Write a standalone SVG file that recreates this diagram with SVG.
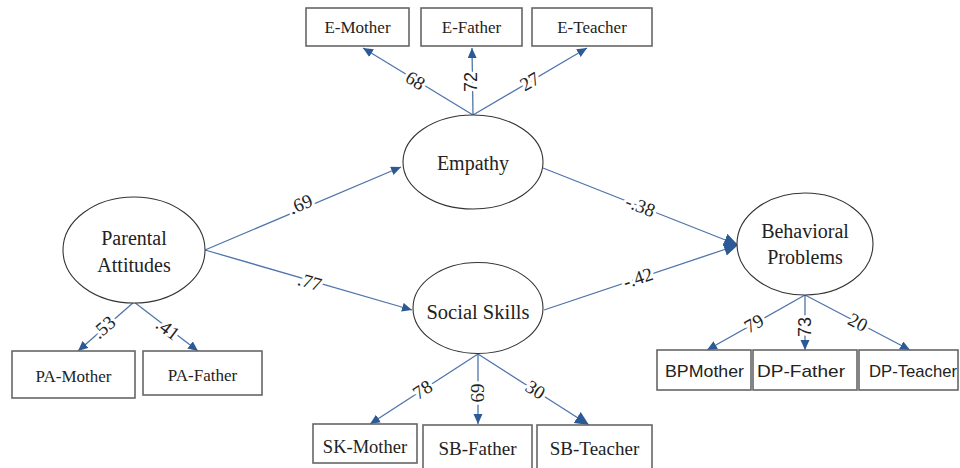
<svg xmlns="http://www.w3.org/2000/svg" width="960" height="468" viewBox="0 0 960 468">
<defs>
<marker id="ah" markerUnits="userSpaceOnUse" markerWidth="11" markerHeight="10" refX="10" refY="4.5" orient="auto">
<path d="M0,0 L10,4.5 L0,9 z" fill="#2c5a96"/>
</marker>
<marker id="ahL" markerUnits="userSpaceOnUse" markerWidth="15" markerHeight="14" refX="14" refY="6.5" orient="auto">
<path d="M0,0 L14,6.5 L0,13 z" fill="#2c5a96"/>
</marker>
<style>
.box{fill:#fff;stroke:#666;stroke-width:1.6}
.ell{fill:#fff;stroke:#333;stroke-width:1.1}
.t{font-family:"Liberation Serif","Times New Roman",serif;fill:#222;text-anchor:middle}
.s{font-family:"Liberation Sans",Arial,sans-serif;fill:#222;text-anchor:middle}
.conn line{stroke:#4f74aa;stroke-width:1.3;marker-end:url(#ah)}
.conn line.big{marker-end:url(#ahL)}
.lab{font-family:"Liberation Serif","Times New Roman",serif;font-size:19px;fill:#222;text-anchor:middle;stroke:#fff;stroke-width:6;paint-order:stroke;stroke-linejoin:round}
.labs{font-family:"Liberation Sans",Arial,sans-serif;font-size:18px;fill:#222;text-anchor:middle;stroke:#fff;stroke-width:6;paint-order:stroke;stroke-linejoin:round}
</style>
</defs>
<rect width="960" height="468" fill="#fff"/>

<g id="connectors" class="conn">
<line x1="205" y1="250" x2="401" y2="167"/>
<line x1="205" y1="250" x2="412" y2="310"/>
<line x1="543" y1="168" x2="738" y2="245" class="big"/>
<line x1="544" y1="310" x2="738" y2="245" class="big"/>
<line x1="473" y1="115" x2="363" y2="48"/>
<line x1="473" y1="115" x2="472" y2="48"/>
<line x1="473" y1="115" x2="587" y2="48"/>
<line x1="134" y1="302" x2="78" y2="351"/>
<line x1="134" y1="302" x2="198" y2="351"/>
<line x1="478" y1="354" x2="370" y2="424"/>
<line x1="478" y1="354" x2="478" y2="424"/>
<line x1="478" y1="354" x2="589" y2="425" class="big"/>
<line x1="805" y1="295" x2="707" y2="350"/>
<line x1="805" y1="295" x2="805" y2="350"/>
<line x1="805" y1="295" x2="910" y2="350"/>
</g>

<g id="labels">
<text class="lab" transform="translate(303,210) rotate(-23)">.69</text>
<text class="lab" transform="translate(308,288) rotate(16)">.77</text>
<text class="lab" transform="translate(638,212) rotate(21.6)">-.38</text>
<text class="lab" transform="translate(640,284) rotate(-18.6)">-.42</text>
<text class="lab" transform="translate(412,86) rotate(31.3)">68</text>
<text class="labs" transform="translate(477,82) rotate(-90)">72</text>
<text class="lab" transform="translate(533,87) rotate(-30.4)">27</text>
<text class="lab" transform="translate(108,332) rotate(-41)">.53</text>
<text class="lab" transform="translate(164,334) rotate(37.4)">.41</text>
<text class="lab" transform="translate(426,395) rotate(-33)">78</text>
<text class="lab" transform="translate(484,393) rotate(-90)">69</text>
<text class="lab" transform="translate(532,395) rotate(32.5)">30</text>
<text class="lab" transform="translate(757,329) rotate(-29.3)">79</text>
<text class="labs" transform="translate(811,327) rotate(-90)">73</text>
<text class="lab" transform="translate(855,328) rotate(27.6)">20</text>
</g>

<g id="parental-attitudes">
<ellipse class="ell" cx="134" cy="250" rx="71" ry="53"/>
<text class="t" x="134" y="245" font-size="20">Parental</text>
<text class="t" x="134" y="272" font-size="20">Attitudes</text>
</g>
<g id="empathy">
<ellipse class="ell" cx="473" cy="162" rx="70" ry="47"/>
<text class="t" x="473" y="170" font-size="20">Empathy</text>
</g>
<g id="social-skills">
<ellipse class="ell" cx="478" cy="308" rx="65" ry="45.5"/>
<text class="t" x="478" y="319" font-size="20.5">Social Skills</text>
</g>
<g id="behavioral-problems">
<ellipse class="ell" cx="805" cy="244" rx="68" ry="51"/>
<text class="t" x="805" y="238" font-size="20">Behavioral</text>
<text class="t" x="805" y="264" font-size="20">Problems</text>
</g>

<g id="e-mother"><rect class="box" x="306" y="8" width="103" height="38"/><text class="t" x="357.5" y="33" font-size="17">E-Mother</text></g>
<g id="e-father"><rect class="box" x="421" y="8" width="101" height="38"/><text class="t" x="471.5" y="33" font-size="17">E-Father</text></g>
<g id="e-teacher"><rect class="box" x="532" y="8" width="120" height="38"/><text class="t" x="592" y="33" font-size="17">E-Teacher</text></g>

<g id="pa-mother"><rect class="box" x="12" y="351" width="123" height="47"/><text class="t" x="73.5" y="382" font-size="17">PA-Mother</text></g>
<g id="pa-father"><rect class="box" x="143" y="351" width="119" height="44"/><text class="t" x="202.5" y="381" font-size="17">PA-Father</text></g>

<g id="sk-mother"><rect class="box" x="313" y="424" width="104" height="39"/><text class="t" x="365" y="453" font-size="18.5">SK-Mother</text></g>
<g id="sb-father"><rect class="box" x="423" y="425" width="109" height="44"/><text class="t" x="477.5" y="455" font-size="19">SB-Father</text></g>
<g id="sb-teacher"><rect class="box" x="537" y="425" width="115" height="44"/><text class="t" x="594.5" y="455" font-size="19">SB-Teacher</text></g>

<g id="bp-mother"><rect class="box" x="657" y="350" width="94" height="40"/><text class="s" x="704.5" y="377" font-size="17" textLength="79" lengthAdjust="spacingAndGlyphs">BPMother</text></g>
<g id="dp-father"><rect class="box" x="753" y="350" width="104" height="40"/><text class="s" x="801" y="377" font-size="17" textLength="88" lengthAdjust="spacingAndGlyphs">DP-Father</text></g>
<g id="dp-teacher"><rect class="box" x="859" y="350" width="99" height="40"/><text class="s" x="913" y="377" font-size="17" textLength="88" lengthAdjust="spacingAndGlyphs">DP-Teacher</text></g>
</svg>
